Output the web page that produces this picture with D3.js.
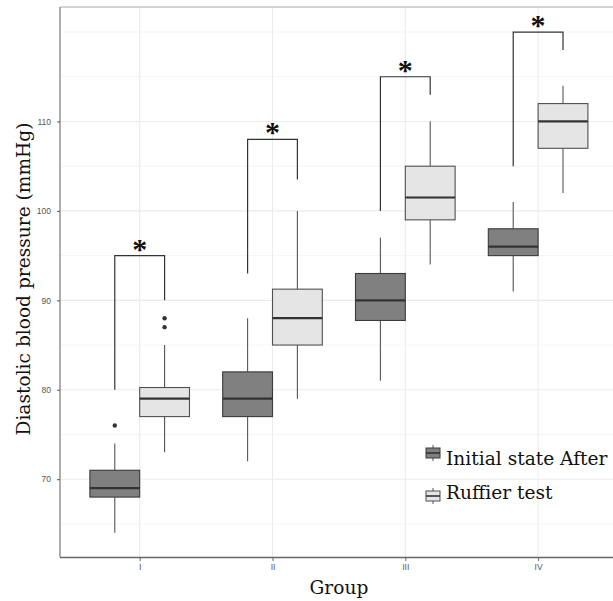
<!DOCTYPE html>
<html>
<head>
<meta charset="utf-8">
<script src="https://cdn.jsdelivr.net/npm/d3@7"></script>
<style>
  html, body { margin: 0; padding: 0; background: #fff; }
  svg { display: block; }
</style>
</head>
<body>
<svg id="chart" width="613" height="601"></svg>
<script>
// ---- data ----
const groups = ["I", "II", "III", "IV"];
const seriesNames = ["Initial state After", "Ruffier test"];
const seriesFill = ["#808080", "#e5e5e5"];
const seriesStroke = ["#3a3a3a", "#505050"];

// [lowWhisker, q1, median, q3, highWhisker]
const initialStats = [
  [64, 68, 69, 71, 74],
  [72, 77, 79, 82, 88],
  [81, 87.75, 90, 93, 97],
  [91, 95, 96, 98, 101]
];
const ruffierStats = [
  [73, 77, 79, 80.25, 85],
  [79, 85, 88, 91.25, 100],
  [94, 99, 101.5, 105, 110],
  [102, 107, 110, 112, 114]
];
const initialOutliers = [[76], [], [], []];
const ruffierOutliers = [[87, 88], [], [], []];

// significance brackets: [left end, right end, top]
const bracketLeft = [80, 93, 100, 105];
const bracketRight = [90, 103.5, 113, 118];
const bracketTop = [95, 108, 115, 120];
const sigLabels = ["*", "*", "*", "*"];

const yTicks = [70, 80, 90, 100, 110];
const yGrid = [65, 70, 75, 80, 85, 90, 95, 100, 105, 110, 115, 120];
const xTitle = "Group";
const yTitle = "Diastolic blood pressure (mmHg)";

// ---- layout ----
const svg = d3.select("#chart");
const panel = { left: 60, top: 7, right: 617.8, bottom: 557 };

const x = d3.scalePoint().domain(groups).range([panel.left, panel.right]).padding(0.6);
const step = x.step();
const dodge = d3.scaleBand().domain(seriesNames).range([-0.375 * step, 0.375 * step]);
const bw = dodge.bandwidth();
const y = d3.scaleLinear().domain([61.3, 122.8]).range([panel.bottom, panel.top]);

const serif = "'DejaVu Serif', serif";

// grid
const grid = svg.append("g");
grid.selectAll("line.h").data(yGrid).join("line")
  .attr("x1", panel.left).attr("x2", panel.right)
  .attr("y1", d => y(d)).attr("y2", d => y(d))
  .attr("stroke", d => yTicks.includes(d) ? "#ebebeb" : "#f3f3f3")
  .attr("stroke-width", d => yTicks.includes(d) ? 1.1 : 0.8);
grid.selectAll("line.v").data(groups).join("line")
  .attr("x1", d => x(d)).attr("x2", d => x(d))
  .attr("y1", panel.top).attr("y2", panel.bottom)
  .attr("stroke", "#ebebeb").attr("stroke-width", 1.1);

// boxes
const allStats = [initialStats, ruffierStats];
const allOut = [initialOutliers, ruffierOutliers];
const boxes = svg.append("g");
seriesNames.forEach((s, si) => {
  groups.forEach((g, gi) => {
    const st = allStats[si][gi];
    const x0 = x(g) + dodge(s);
    const cx = x0 + bw / 2;
    const gg = boxes.append("g");
    gg.append("line").attr("x1", cx).attr("x2", cx)
      .attr("y1", y(st[3])).attr("y2", y(st[4]))
      .attr("stroke", "#555").attr("stroke-width", 1.1);
    gg.append("line").attr("x1", cx).attr("x2", cx)
      .attr("y1", y(st[1])).attr("y2", y(st[0]))
      .attr("stroke", "#555").attr("stroke-width", 1.1);
    gg.append("rect").attr("x", x0).attr("width", bw)
      .attr("y", y(st[3])).attr("height", y(st[1]) - y(st[3]))
      .attr("fill", seriesFill[si]).attr("stroke", seriesStroke[si]).attr("stroke-width", 1.1);
    gg.append("line").attr("x1", x0).attr("x2", x0 + bw)
      .attr("y1", y(st[2])).attr("y2", y(st[2]))
      .attr("stroke", "#333").attr("stroke-width", 2.2);
    gg.selectAll("circle").data(allOut[si][gi]).join("circle")
      .attr("cx", cx).attr("cy", d => y(d)).attr("r", 2.2).attr("fill", "#333");
  });
});

// brackets
const br = svg.append("g");
groups.forEach((g, gi) => {
  const xl = x(g) + dodge(seriesNames[0]) + bw / 2;
  const xr = x(g) + dodge(seriesNames[1]) + bw / 2;
  const p = d3.path();
  p.moveTo(xl, y(bracketLeft[gi]));
  p.lineTo(xl, y(bracketTop[gi]));
  p.lineTo(xr, y(bracketTop[gi]));
  p.lineTo(xr, y(bracketRight[gi]));
  br.append("path").attr("d", p.toString()).attr("fill", "none")
    .attr("stroke", "#333").attr("stroke-width", 1.2);
  br.append("text").attr("x", x(g)).attr("y", y(bracketTop[gi]) + 3)
    .attr("text-anchor", "middle")
    .attr("font-family", "'Liberation Serif', serif").attr("font-size", 30)
    .attr("font-weight", "bold")
    .attr("fill", "#111").text(sigLabels[gi]);
});

// panel border
svg.append("line").attr("x1", panel.left).attr("x2", 613).attr("y1", panel.top).attr("y2", panel.top)
  .attr("stroke", "#aaa").attr("stroke-width", 1);
svg.append("line").attr("x1", panel.left).attr("x2", panel.left).attr("y1", panel.top).attr("y2", panel.bottom)
  .attr("stroke", "#777").attr("stroke-width", 1.2);

// axes
const yAxis = svg.append("g").attr("transform", `translate(${panel.left},0)`)
  .call(d3.axisLeft(y).tickValues(yTicks).tickSize(3).tickPadding(6));
yAxis.select(".domain").remove();
yAxis.selectAll("line").attr("stroke", "#555");
yAxis.selectAll("text").attr("font-family", "'Liberation Sans', Arial, sans-serif")
  .attr("font-size", 8.5).attr("fill", "#555");

const xAxis = svg.append("g").attr("transform", `translate(0,${panel.bottom})`)
  .call(d3.axisBottom(x).tickSize(4).tickPadding(3));
xAxis.select(".domain").attr("stroke", "#666").attr("stroke-width", 1.4)
  .attr("d", `M${panel.left},0.5H${panel.right}`);
xAxis.selectAll("line").attr("stroke", "#666");
xAxis.selectAll("text").attr("font-family", "'Liberation Sans', Arial, sans-serif")
  .attr("font-size", 8.5).attr("fill", "#555");

// titles
svg.append("text").attr("x", (panel.left + panel.right) / 2).attr("y", 594)
  .attr("text-anchor", "middle").attr("font-family", serif).attr("font-size", 18.6)
  .attr("fill", "#111").text(xTitle);
svg.append("text").attr("transform", `translate(30,${(panel.top + panel.bottom) / 2 - 3}) rotate(-90)`)
  .attr("text-anchor", "middle").attr("font-family", serif).attr("font-size", 18.6)
  .attr("fill", "#111").text(yTitle);

// legend
const legY = [453, 496];
const legTextY = [465, 499];
const lg = svg.append("g");
seriesNames.forEach((s, si) => {
  const kx = 426, kw = 14, cy = legY[si];
  lg.append("line").attr("x1", kx + kw / 2).attr("x2", kx + kw / 2)
    .attr("y1", cy - 8).attr("y2", cy + 8).attr("stroke", "#555").attr("stroke-width", 1);
  lg.append("rect").attr("x", kx).attr("y", cy - 5).attr("width", kw).attr("height", 10)
    .attr("fill", seriesFill[si]).attr("stroke", seriesStroke[si]).attr("stroke-width", 1);
  lg.append("line").attr("x1", kx).attr("x2", kx + kw).attr("y1", cy).attr("y2", cy)
    .attr("stroke", "#333").attr("stroke-width", 1.6);
  lg.append("text").attr("x", 446).attr("y", legTextY[si])
    .attr("font-family", serif).attr("font-size", 18.6).attr("fill", "#111").text(s);
});
</script>
</body>
</html>
